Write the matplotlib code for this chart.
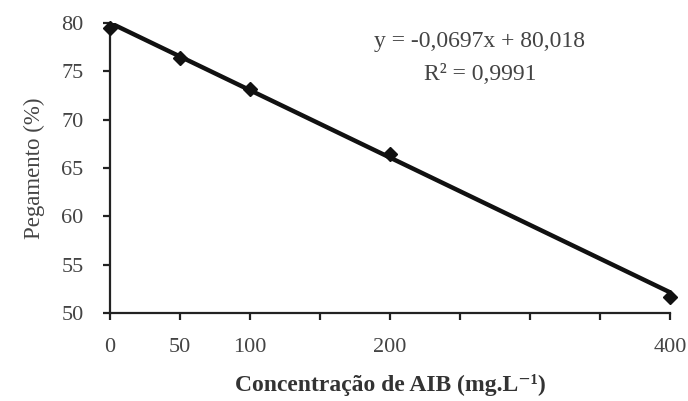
import numpy as np
import matplotlib
matplotlib.use('agg')
import matplotlib.pyplot as plt

plt.rcParams['font.family'] = ['Liberation Serif', 'DejaVu Serif']

# data
conc = [0, 50, 100, 200, 400]
pegamento = [79.5, 76.4, 73.2, 66.4, 51.7]
slope = -0.0697
intercept = 80.018
x_ticks = [0, 50, 100, 150, 200, 250, 300, 350, 400]
x_labels = ['0', '50', '100', '', '200', '', '', '', '400']
y_ticks = [50, 55, 60, 65, 70, 75, 80]

grey = '#444444'

fig = plt.figure(figsize=(6.88, 4.01), dpi=100)
ax = fig.add_axes([110/688, 1-313/401, 560/688, 290/401])

# trend line from the displayed equation
xl = np.array([conc[0], conc[-1]])
ax.plot(xl, slope*xl + intercept, color='#111111', lw=3.2, zorder=2)
ax.plot(conc, pegamento, linestyle='none', marker='D', ms=7.5,
        color='#111111', zorder=3, clip_on=False)

ax.set_xlim(0, 400)
ax.set_ylim(50, 80)
ax.set_xticks(x_ticks)
ax.set_xticklabels(x_labels)
ax.set_yticks(y_ticks)

for s in ['top', 'right']:
    ax.spines[s].set_visible(False)
for s in ['left', 'bottom']:
    ax.spines[s].set_linewidth(1.6)
    ax.spines[s].set_color('#222222')

ax.tick_params(axis='both', direction='out', length=5, width=1.6,
               color='#222222', labelsize=16, labelcolor=grey)
ax.tick_params(axis='x', pad=13)
ax.tick_params(axis='y', pad=14)

ax.set_ylabel('Pegamento (%)', fontsize=16.5, color=grey, labelpad=12)
ax.set_xlabel('Concentração de AIB (mg.L⁻¹)', fontsize=17,
              fontweight='bold', color='#333333', labelpad=12)

fig.text(480/688, 1-42/401, 'y = -0,0697x + 80,018', fontsize=17,
         color=grey, ha='center', va='center')
fig.text(480/688, 1-75/401, 'R² = 0,9991', fontsize=17,
         color=grey, ha='center', va='center')

plt.savefig('out.png', dpi=100)
